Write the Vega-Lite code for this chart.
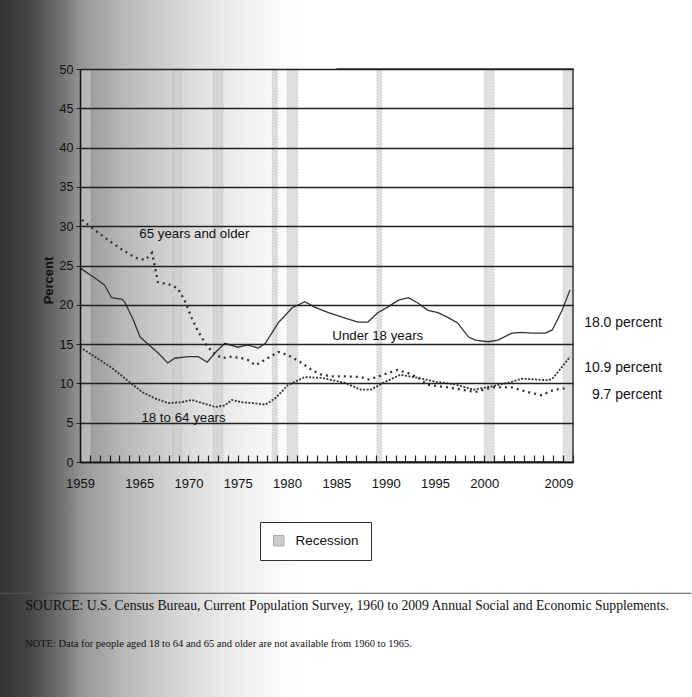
{
  "$schema": "https://vega.github.io/schema/vega-lite/v6.json",
  "width": 493,
  "height": 393,
  "autosize": {"type": "none"},
  "padding": {"left": 80, "top": 69, "right": 119, "bottom": 235},
  "background": "white",
  "title": {
    "text": "NOTE: Data for people aged 18 to 64 and 65 and older are not available from 1960 to 1965.",
    "orient": "bottom",
    "anchor": "start",
    "frame": "group",
    "dx": -55,
    "offset": -59,
    "baseline": "top",
    "font": "Liberation Serif",
    "fontSize": 10.5,
    "fontWeight": "normal",
    "color": "#111"
  },
  "config": {
    "view": {"stroke": "#333", "strokeWidth": 1.5},
    "axis": {"labelOverlap": false},
    "font": "Liberation Sans, Arial, sans-serif"
  },
  "datasets": {
    "recessions": [
      {"start": 1959.1, "end": 1960.1, "type": "Recession"},
      {"start": 1968.4, "end": 1969.3, "type": "Recession"},
      {"start": 1972.5, "end": 1973.5, "type": "Recession"},
      {"start": 1978.5, "end": 1979.0, "type": "Recession"},
      {"start": 1980.0, "end": 1981.1, "type": "Recession"},
      {"start": 1989.1, "end": 1989.6, "type": "Recession"},
      {"start": 2000.0, "end": 2001.0, "type": "Recession"},
      {"start": 2008.0, "end": 2008.9, "type": "Recession"}
    ],
    "poverty": [
      {"series": "Under 18 years", "year": 1959.0, "value": 24.7},
      {"series": "Under 18 years", "year": 1959.8, "value": 24.0},
      {"series": "Under 18 years", "year": 1960.5, "value": 23.4},
      {"series": "Under 18 years", "year": 1961.5, "value": 22.5},
      {"series": "Under 18 years", "year": 1962.2, "value": 20.9},
      {"series": "Under 18 years", "year": 1963.3, "value": 20.7},
      {"series": "Under 18 years", "year": 1963.6, "value": 20.2},
      {"series": "Under 18 years", "year": 1964.4, "value": 18.1},
      {"series": "Under 18 years", "year": 1965.1, "value": 15.9},
      {"series": "Under 18 years", "year": 1965.8, "value": 15.1},
      {"series": "Under 18 years", "year": 1966.9, "value": 13.9},
      {"series": "Under 18 years", "year": 1967.9, "value": 12.6},
      {"series": "Under 18 years", "year": 1968.6, "value": 13.2},
      {"series": "Under 18 years", "year": 1970.0, "value": 13.4},
      {"series": "Under 18 years", "year": 1971.0, "value": 13.4},
      {"series": "Under 18 years", "year": 1971.9, "value": 12.7},
      {"series": "Under 18 years", "year": 1972.7, "value": 13.9},
      {"series": "Under 18 years", "year": 1973.7, "value": 15.1},
      {"series": "Under 18 years", "year": 1975.0, "value": 14.6},
      {"series": "Under 18 years", "year": 1976.0, "value": 14.9},
      {"series": "Under 18 years", "year": 1977.1, "value": 14.5},
      {"series": "Under 18 years", "year": 1977.8, "value": 15.1},
      {"series": "Under 18 years", "year": 1979.1, "value": 17.7},
      {"series": "Under 18 years", "year": 1980.5, "value": 19.6},
      {"series": "Under 18 years", "year": 1981.8, "value": 20.4},
      {"series": "Under 18 years", "year": 1982.8, "value": 19.7},
      {"series": "Under 18 years", "year": 1984.2, "value": 19.0},
      {"series": "Under 18 years", "year": 1985.9, "value": 18.3},
      {"series": "Under 18 years", "year": 1987.2, "value": 17.8},
      {"series": "Under 18 years", "year": 1988.2, "value": 17.8},
      {"series": "Under 18 years", "year": 1989.2, "value": 19.0},
      {"series": "Under 18 years", "year": 1990.2, "value": 19.7},
      {"series": "Under 18 years", "year": 1991.3, "value": 20.6},
      {"series": "Under 18 years", "year": 1992.3, "value": 20.9},
      {"series": "Under 18 years", "year": 1993.3, "value": 20.2},
      {"series": "Under 18 years", "year": 1994.3, "value": 19.3},
      {"series": "Under 18 years", "year": 1995.3, "value": 19.0},
      {"series": "Under 18 years", "year": 1996.3, "value": 18.4},
      {"series": "Under 18 years", "year": 1997.3, "value": 17.7},
      {"series": "Under 18 years", "year": 1998.4, "value": 15.9},
      {"series": "Under 18 years", "year": 1999.1, "value": 15.5},
      {"series": "Under 18 years", "year": 2000.4, "value": 15.3},
      {"series": "Under 18 years", "year": 2001.4, "value": 15.5},
      {"series": "Under 18 years", "year": 2002.8, "value": 16.4},
      {"series": "Under 18 years", "year": 2003.8, "value": 16.5},
      {"series": "Under 18 years", "year": 2004.8, "value": 16.4},
      {"series": "Under 18 years", "year": 2006.2, "value": 16.4},
      {"series": "Under 18 years", "year": 2006.9, "value": 16.8},
      {"series": "Under 18 years", "year": 2007.9, "value": 19.3},
      {"series": "Under 18 years", "year": 2008.7, "value": 21.9},

      {"series": "65 years and older", "year": 1959.2, "value": 30.8},
      {"series": "65 years and older", "year": 1960.5, "value": 29.5},
      {"series": "65 years and older", "year": 1961.9, "value": 28.2},
      {"series": "65 years and older", "year": 1963.3, "value": 27.0},
      {"series": "65 years and older", "year": 1964.6, "value": 26.0},
      {"series": "65 years and older", "year": 1965.6, "value": 25.7},
      {"series": "65 years and older", "year": 1966.3, "value": 26.6},
      {"series": "65 years and older", "year": 1966.6, "value": 24.8},
      {"series": "65 years and older", "year": 1966.9, "value": 22.9},
      {"series": "65 years and older", "year": 1968.3, "value": 22.5},
      {"series": "65 years and older", "year": 1968.9, "value": 22.1},
      {"series": "65 years and older", "year": 1969.6, "value": 20.6},
      {"series": "65 years and older", "year": 1970.3, "value": 18.4},
      {"series": "65 years and older", "year": 1970.9, "value": 16.8},
      {"series": "65 years and older", "year": 1971.7, "value": 15.1},
      {"series": "65 years and older", "year": 1972.4, "value": 14.0},
      {"series": "65 years and older", "year": 1973.4, "value": 13.2},
      {"series": "65 years and older", "year": 1974.4, "value": 13.4},
      {"series": "65 years and older", "year": 1975.4, "value": 13.2},
      {"series": "65 years and older", "year": 1976.0, "value": 13.0},
      {"series": "65 years and older", "year": 1976.8, "value": 12.3},
      {"series": "65 years and older", "year": 1978.0, "value": 13.2},
      {"series": "65 years and older", "year": 1979.1, "value": 14.0},
      {"series": "65 years and older", "year": 1980.1, "value": 13.6},
      {"series": "65 years and older", "year": 1981.5, "value": 12.6},
      {"series": "65 years and older", "year": 1982.5, "value": 11.7},
      {"series": "65 years and older", "year": 1983.5, "value": 11.1},
      {"series": "65 years and older", "year": 1984.5, "value": 10.9},
      {"series": "65 years and older", "year": 1985.8, "value": 10.9},
      {"series": "65 years and older", "year": 1987.5, "value": 10.8},
      {"series": "65 years and older", "year": 1988.3, "value": 10.5},
      {"series": "65 years and older", "year": 1989.1, "value": 10.8},
      {"series": "65 years and older", "year": 1990.2, "value": 11.3},
      {"series": "65 years and older", "year": 1991.2, "value": 11.7},
      {"series": "65 years and older", "year": 1992.3, "value": 11.3},
      {"series": "65 years and older", "year": 1993.3, "value": 10.7},
      {"series": "65 years and older", "year": 1994.3, "value": 9.8},
      {"series": "65 years and older", "year": 1996.3, "value": 9.5},
      {"series": "65 years and older", "year": 1999.1, "value": 8.9},
      {"series": "65 years and older", "year": 2000.8, "value": 9.5},
      {"series": "65 years and older", "year": 2002.8, "value": 9.5},
      {"series": "65 years and older", "year": 2004.4, "value": 8.9},
      {"series": "65 years and older", "year": 2005.8, "value": 8.5},
      {"series": "65 years and older", "year": 2007.1, "value": 9.2},
      {"series": "65 years and older", "year": 2008.4, "value": 9.4},

      {"series": "18 to 64 years", "year": 1959.0, "value": 14.6},
      {"series": "18 to 64 years", "year": 1960.5, "value": 13.4},
      {"series": "18 to 64 years", "year": 1962.2, "value": 12.0},
      {"series": "18 to 64 years", "year": 1963.8, "value": 10.4},
      {"series": "18 to 64 years", "year": 1965.3, "value": 8.9},
      {"series": "18 to 64 years", "year": 1966.6, "value": 8.1},
      {"series": "18 to 64 years", "year": 1967.9, "value": 7.5},
      {"series": "18 to 64 years", "year": 1969.3, "value": 7.6},
      {"series": "18 to 64 years", "year": 1970.3, "value": 7.9},
      {"series": "18 to 64 years", "year": 1971.4, "value": 7.5},
      {"series": "18 to 64 years", "year": 1972.7, "value": 7.0},
      {"series": "18 to 64 years", "year": 1973.7, "value": 7.2},
      {"series": "18 to 64 years", "year": 1974.4, "value": 7.9},
      {"series": "18 to 64 years", "year": 1975.4, "value": 7.6},
      {"series": "18 to 64 years", "year": 1976.5, "value": 7.5},
      {"series": "18 to 64 years", "year": 1977.8, "value": 7.3},
      {"series": "18 to 64 years", "year": 1978.8, "value": 8.1},
      {"series": "18 to 64 years", "year": 1980.1, "value": 9.8},
      {"series": "18 to 64 years", "year": 1981.8, "value": 10.8},
      {"series": "18 to 64 years", "year": 1983.5, "value": 10.7},
      {"series": "18 to 64 years", "year": 1985.8, "value": 10.1},
      {"series": "18 to 64 years", "year": 1987.5, "value": 9.2},
      {"series": "18 to 64 years", "year": 1988.5, "value": 9.2},
      {"series": "18 to 64 years", "year": 1989.8, "value": 10.1},
      {"series": "18 to 64 years", "year": 1991.5, "value": 11.1},
      {"series": "18 to 64 years", "year": 1993.3, "value": 10.7},
      {"series": "18 to 64 years", "year": 1995.1, "value": 10.2},
      {"series": "18 to 64 years", "year": 1997.0, "value": 9.9},
      {"series": "18 to 64 years", "year": 1998.9, "value": 9.2},
      {"series": "18 to 64 years", "year": 2000.7, "value": 9.6},
      {"series": "18 to 64 years", "year": 2002.8, "value": 10.2},
      {"series": "18 to 64 years", "year": 2003.8, "value": 10.6},
      {"series": "18 to 64 years", "year": 2006.5, "value": 10.4},
      {"series": "18 to 64 years", "year": 2007.0, "value": 10.7},
      {"series": "18 to 64 years", "year": 2008.7, "value": 13.4}
    ],
    "inlabels": [
      {"text": "65 years and older", "year": 1970.6, "value": 29.0},
      {"text": "Under 18 years", "year": 1989.2, "value": 16.0},
      {"text": "18 to 64 years", "year": 1969.5, "value": 5.6}
    ],
    "endlabels": [
      {"text": "18.0 percent", "value": 17.7},
      {"text": "10.9 percent", "value": 12.0},
      {"text": "9.7 percent", "value": 8.5}
    ]
  },
  "layer": [
    {
      "data": {"values": [{"shade": "scan"}]},
      "mark": {"type": "rect", "clip": false,
        "fill": {"gradient": "linear", "x1": 0, "y1": 0, "x2": 1, "y2": 0,
          "stops": [
            {"offset": 0, "color": "#2e2e2e"},
            {"offset": 0.11, "color": "#454545"},
            {"offset": 0.2, "color": "#707070"},
            {"offset": 0.26, "color": "#959595"},
            {"offset": 0.37, "color": "#b5b5b5"},
            {"offset": 0.49, "color": "#cccccc"},
            {"offset": 0.6, "color": "#e0e0e0"},
            {"offset": 0.75, "color": "#f2f2f2"},
            {"offset": 0.9, "color": "#ffffff"},
            {"offset": 1, "color": "#ffffff"}
          ]}},
      "encoding": {
        "x": {"datum": 1950, "type": "quantitative"},
        "x2": {"datum": 1985},
        "y": {"datum": -30, "type": "quantitative"},
        "y2": {"datum": 60}
      }
    },
    {
      "data": {"values": [{"rule": "footnote"}]},
      "mark": {"type": "rule", "clip": false, "color": "#555", "strokeWidth": 1.2},
      "encoding": {
        "x": {"datum": 1950, "type": "quantitative"},
        "x2": {"datum": 2021},
        "y": {"datum": -16.7, "type": "quantitative"}
      }
    },
    {
      "data": {"name": "recessions"},
      "mark": {"type": "rect", "opacity": 0.6, "stroke": "#9a9a9a", "strokeWidth": 1, "strokeDash": [1, 2]},
      "encoding": {
        "x": {
          "field": "start", "type": "quantitative",
          "scale": {"domain": [1959, 2009], "nice": false, "zero": false},
          "axis": {
            "values": [1959,1960,1961,1962,1963,1964,1965,1966,1967,1968,1969,1970,1971,1972,1973,1974,1975,1976,1977,1978,1979,1980,1981,1982,1983,1984,1985,1986,1987,1988,1989,1990,1991,1992,1993,1994,1995,1996,1997,1998,1999,2000,2001,2002,2003,2004,2005,2006,2007,2008,2009],
            "tickCount": 100,
            "labelExpr": "indexof([1959,1965,1970,1975,1980,1985,1990,1995,2000,2009], datum.value) >= 0 ? '' + datum.value : ''",
            "labelAlign": {"condition": {"test": "datum.value == 2009", "value": "right"}, "value": "center"},
            "grid": false,
            "zindex": 1,
            "tickSize": -7,
            "tickColor": "#222",
            "tickWidth": 1.2,
            "domainColor": "#111",
            "domainWidth": 1.5,
            "labelPadding": 22,
            "labelFontSize": 13,
            "labelColor": "#111",
            "labelFlush": false,
            "labelOverlap": false,
            "title": "SOURCE: U.S. Census Bureau, Current Population Survey, 1960 to 2009 Annual Social and Economic Supplements.",
            "titleFont": "Liberation Serif",
            "titleFontSize": 13.7,
            "titleFontWeight": "normal",
            "titleColor": "#111",
            "titleAlign": "left",
            "titleBaseline": "top",
            "titleAnchor": "start",
            "titleX": -55,
            "titleY": 136
          }
        },
        "x2": {"field": "end"},
        "color": {
          "field": "type", "type": "nominal",
          "scale": {"range": ["#cccccc"]},
          "legend": {
            "orient": "none", "legendX": 180, "legendY": 453,
            "title": null,
            "strokeColor": "#333",
            "fillColor": "white",
            "padding": 12,
            "symbolType": "square", "symbolSize": 110,
            "symbolStrokeColor": "#aaa", "symbolStrokeWidth": 1,
            "symbolOpacity": 1,
            "labelFontSize": 13.5, "labelColor": "#111", "labelOffset": 10
          }
        }
      }
    },
    {
      "data": {"name": "poverty"},
      "transform": [{"filter": "datum.series === 'Under 18 years'"}],
      "mark": {"type": "line", "color": "#333", "strokeWidth": 1.3},
      "encoding": {
        "x": {"field": "year", "type": "quantitative"},
        "y": {
          "field": "value", "type": "quantitative",
          "scale": {"domain": [0, 50], "nice": false},
          "axis": {
            "values": [0,5,10,15,20,25,30,35,40,45,50],
            "tickCount": 20,
            "zindex": 1,
            "grid": true, "gridColor": "#222", "gridWidth": 1.6,
            "domainColor": "#111", "domainWidth": 1.5,
            "tickColor": "#222", "tickSize": 4,
            "labelFontSize": 12.5, "labelPadding": 3, "labelColor": "#111",
            "title": "Percent", "titleFontWeight": "bold", "titleFontSize": 13,
            "titleColor": "#111", "titleX": -32, "titleY": 211, "titleAngle": -90,
            "titleBaseline": "middle"
          }
        }
      }
    },
    {
      "data": {"name": "poverty"},
      "transform": [{"filter": "datum.series === '18 to 64 years'"}],
      "mark": {"type": "line", "color": "#333", "strokeWidth": 1.8, "strokeDash": [2, 1.5]},
      "encoding": {
        "x": {"field": "year", "type": "quantitative"},
        "y": {"field": "value", "type": "quantitative"}
      }
    },
    {
      "data": {"name": "poverty"},
      "transform": [{"filter": "datum.series === '65 years and older'"}],
      "mark": {"type": "line", "color": "#333", "strokeWidth": 2.3, "strokeDash": [2, 4]},
      "encoding": {
        "x": {"field": "year", "type": "quantitative"},
        "y": {"field": "value", "type": "quantitative"}
      }
    },
    {
      "data": {"name": "inlabels"},
      "mark": {"type": "text", "fontSize": 13.3, "color": "#111", "align": "center", "baseline": "middle"},
      "encoding": {
        "x": {"field": "year", "type": "quantitative"},
        "y": {"field": "value", "type": "quantitative"},
        "text": {"field": "text"}
      }
    },
    {
      "data": {"name": "endlabels"},
      "mark": {"type": "text", "fontSize": 14, "color": "#111", "align": "right", "baseline": "middle", "dx": 89},
      "encoding": {
        "x": {"datum": 2009, "type": "quantitative"},
        "y": {"field": "value", "type": "quantitative"},
        "text": {"field": "text"}
      }
    }
  ]
}
